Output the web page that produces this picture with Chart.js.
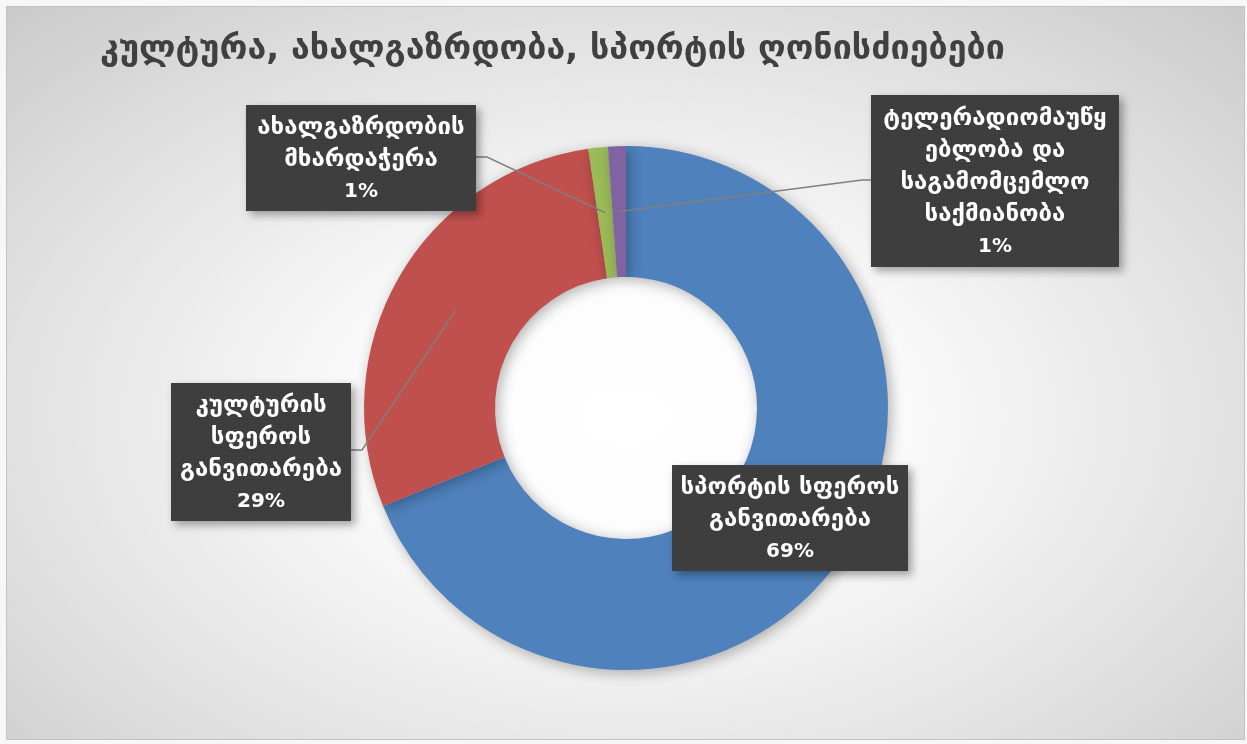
<!DOCTYPE html>
<html>
<head>
<meta charset="utf-8">
<script src="https://cdn.jsdelivr.net/npm/chart.js@4"></script>
<style>
  html, body { margin: 0; padding: 0; background: #f7f7f7; }
  #frame {
    position: absolute; left: 6px; top: 6px; width: 1237px; height: 732px;
    border: 1px solid #c2c2c2;
    background: radial-gradient(ellipse 75% 80% at 50% 56%, #ffffff 0%, #fbfbfb 28%, #e2e2e2 65%, #c8c8c8 100%);
  }
  #wrap { position: absolute; left: 0; top: 0; width: 1247px; height: 744px; }
</style>
</head>
<body>
<div id="frame"></div>
<div id="wrap"><canvas id="donut" width="1247" height="744"></canvas></div>
<script>
// data
const chartTitle = 'კულტურა, ახალგაზრდობა, სპორტის ღონისძიებები';
const categories = [
  'სპორტის სფეროს განვითარება',
  'კულტურის სფეროს განვითარება',
  'ახალგაზრდობის მხარდაჭერა',
  'ტელერადიომაუწყებლობა და საგამომცემლო საქმიანობა'
];
const shares = [68.9, 28.8, 1.2, 1.1];
const labelLines = [
  ['სპორტის სფეროს', 'განვითარება'],
  ['კულტურის', 'სფეროს', 'განვითარება'],
  ['ახალგაზრდობის', 'მხარდაჭერა'],
  ['ტელერადიომაუწყ', 'ებლობა და', 'საგამომცემლო', 'საქმიანობა']
];
const sliceColors = ['#4f81bd', '#c0504d', '#9bbb59', '#8064a2'];

// label box layout (x, y, w, h) and leader elbow
const boxLayout = [
  { x: 672, y: 465, w: 236, h: 106, leader: null },
  { x: 171, y: 383, w: 180, h: 138, leader: { ex: 362, ey: 450, bx: 351 } },
  { x: 246, y: 105, w: 230, h: 106, leader: { ex: 487, ey: 157, bx: 476 } },
  { x: 871, y: 95,  w: 248, h: 172, leader: { ex: 862, ey: 180, bx: 871 } }
];

const canvas = document.getElementById('donut');

function makeDots(ctx) {
  const t = document.createElement('canvas');
  t.width = 4; t.height = 4;
  const c = t.getContext('2d');
  c.fillStyle = '#3d3d3d';
  c.fillRect(0, 0, 4, 4);
  c.fillStyle = '#494949';
  c.fillRect(1, 1, 1, 1);
  return ctx.createPattern(t, 'repeat');
}

const donutShadow = {
  id: 'donutShadow',
  beforeDatasetsDraw(chart) {
    const ctx = chart.ctx;
    ctx.save();
    ctx.shadowColor = 'rgba(0,0,0,0.3)';
    ctx.shadowBlur = 14;
    ctx.shadowOffsetX = 3;
    ctx.shadowOffsetY = 3;
  },
  afterDatasetsDraw(chart) {
    chart.ctx.restore();
  }
};

const calloutLabels = {
  id: 'calloutLabels',
  afterDraw(chart) {
    const ctx = chart.ctx;
    const arcs = chart.getDatasetMeta(0).data;
    const values = chart.data.datasets[0].data;
    const total = values.reduce((a, b) => a + b, 0);
    const dots = makeDots(ctx);

    // title
    ctx.save();
    ctx.font = 'bold 34px "DejaVu Sans"';
    ctx.fillStyle = '#404040';
    ctx.textBaseline = 'middle';
    ctx.textAlign = 'left';
    ctx.fillText(chartTitle, 100, 50);
    ctx.restore();

    arcs.forEach((arc, i) => {
      const box = boxLayout[i];
      // leader lines
      if (box.leader) {
        const p = arc.tooltipPosition();
        ctx.save();
        ctx.strokeStyle = '#7f7f7f';
        ctx.lineWidth = 1.5;
        ctx.beginPath();
        ctx.moveTo(p.x, p.y);
        ctx.lineTo(box.leader.ex, box.leader.ey);
        ctx.lineTo(box.leader.bx, box.leader.ey);
        ctx.stroke();
        ctx.restore();
      }
      // box
      ctx.save();
      ctx.shadowColor = 'rgba(0,0,0,0.35)';
      ctx.shadowBlur = 8;
      ctx.shadowOffsetX = 4;
      ctx.shadowOffsetY = 4;
      ctx.fillStyle = dots;
      ctx.fillRect(box.x, box.y, box.w, box.h);
      ctx.restore();

      const lines = labelLines[i].concat([Math.round(values[i] / total * 100) + '%']);
      ctx.save();
      ctx.fillStyle = '#ffffff';
      ctx.textAlign = 'center';
      ctx.textBaseline = 'middle';
      const lh = 32;
      const cy = box.y + box.h / 2 + 2 - (lines.length - 1) * lh / 2;
      lines.forEach((t, k) => {
        ctx.font = k === lines.length - 1 ? 'bold 20px "DejaVu Sans"' : 'bold 24px "DejaVu Sans"';
        ctx.fillText(t, box.x + box.w / 2, cy + k * lh);
      });
      ctx.restore();
    });
  }
};

new Chart(canvas, {
  type: 'doughnut',
  data: {
    labels: categories,
    datasets: [{
      data: shares,
      backgroundColor: sliceColors,
      borderWidth: 0
    }]
  },
  options: {
    responsive: false,
    animation: false,
    cutout: '50%',
    layout: { padding: { left: 364, top: 146, right: 359, bottom: 74 } },
    plugins: {
      legend: { display: false },
      tooltip: { enabled: false },
      title: { display: false }
    }
  },
  plugins: [donutShadow, calloutLabels]
});
</script>
</body>
</html>
